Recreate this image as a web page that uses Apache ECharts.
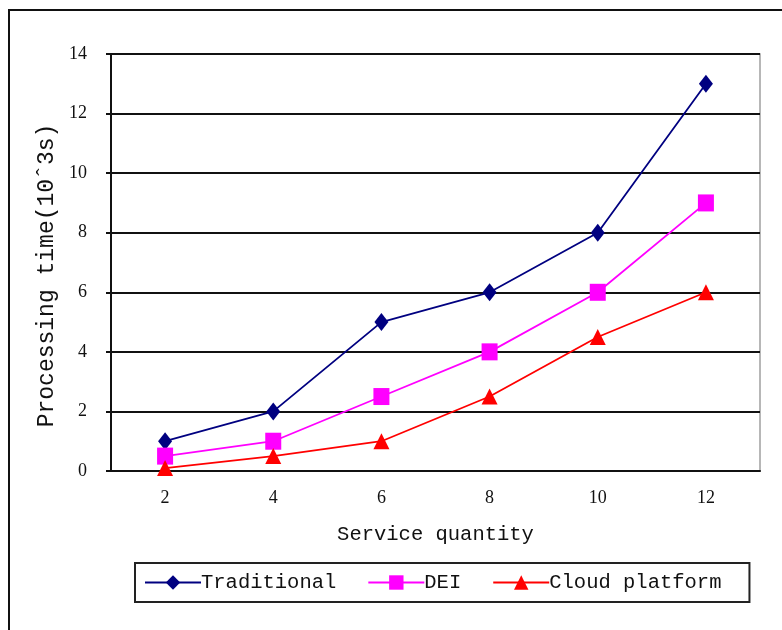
<!DOCTYPE html>
<html>
<head>
<meta charset="utf-8">
<script src="https://cdn.jsdelivr.net/npm/echarts@6/dist/echarts.min.js"></script>
<style>
  html, body { margin: 0; padding: 0; background: #fff; }
  #main { width: 782px; height: 630px; }
</style>
</head>
<body>
<div id="main"></div>
<script>
// data
var quantities = ['2', '4', '6', '8', '10', '12'];
var traditional = [1, 2, 5, 6, 8, 13];
var dei = [0.5, 1, 2.5, 4, 6, 9];
var cloud = [0.1, 0.5, 1, 2.5, 4.5, 6];

var mono = '"Liberation Mono", "DejaVu Sans Mono", monospace';
var serif = '"Liberation Serif", "DejaVu Serif", serif';

var chartDom = document.getElementById('main');
var myChart = echarts.init(chartDom);
var option = {
    animation: false,
    backgroundColor: '#fff',
    graphic: [
        {
            // outer frame of the figure
            type: 'rect',
            shape: { x: 9, y: 10, width: 800, height: 700 },
            style: { fill: 'none', stroke: '#111', lineWidth: 2 }
        }
    ],
    grid: {
        left: 111,
        right: 22,
        top: 54,
        bottom: 159,
        show: true,
        borderColor: '#a0a0a0',
        borderWidth: 1.5
    },
    legend: {
        top: 563,
        left: 135,
        itemWidth: 56,
        itemHeight: 18,
        itemGap: 31,
        padding: [9, 28, 9, 9],
        borderColor: '#222',
        borderWidth: 2,
        textStyle: { fontFamily: mono, fontSize: 20.5, color: '#111', padding: [0, 0, 0, -5] },
        data: ['Traditional', 'DEI', 'Cloud platform']
    },
    xAxis: {
        type: 'category',
        data: quantities,
        name: 'Service quantity',
        nameLocation: 'middle',
        nameGap: 53,
        nameTextStyle: { fontFamily: mono, fontSize: 20.5, color: '#111', verticalAlign: 'top' },
        axisLine: { lineStyle: { color: '#111', width: 2 } },
        axisTick: { inside: true, length: 7, lineStyle: { color: '#111', width: 2 } },
        axisLabel: { fontFamily: serif, fontSize: 18, color: '#111', margin: 18 },
        splitLine: { show: false }
    },
    yAxis: {
        type: 'value',
        min: 0,
        max: 14,
        interval: 2,
        name: 'Processing time(10ˆ3s)',
        nameLocation: 'middle',
        nameGap: 50,
        nameTextStyle: { fontFamily: mono, fontSize: 23, color: '#111', padding: [0, 0, 0, -26] },
        axisLine: { show: true, lineStyle: { color: '#111', width: 2 } },
        axisTick: { show: true, length: 5, lineStyle: { color: '#111', width: 2 } },
        axisLabel: { fontFamily: serif, fontSize: 18, color: '#111', margin: 24 },
        splitLine: { lineStyle: { color: '#111', width: 2 } }
    },
    series: [
        {
            name: 'Traditional',
            type: 'line',
            data: traditional,
            symbol: 'diamond',
            symbolSize: [14, 18],
            itemStyle: { color: '#000080' },
            lineStyle: { color: '#000080', width: 1.8 }
        },
        {
            name: 'DEI',
            type: 'line',
            data: dei,
            symbol: 'rect',
            symbolSize: [16, 17],
            itemStyle: { color: '#ff00ff' },
            lineStyle: { color: '#ff00ff', width: 1.8 }
        },
        {
            name: 'Cloud platform',
            type: 'line',
            data: cloud,
            symbol: 'triangle',
            symbolSize: [16, 16],
            itemStyle: { color: '#ff0000' },
            lineStyle: { color: '#ff0000', width: 1.8 }
        }
    ]
};
option && myChart.setOption(option);
</script>
</body>
</html>
